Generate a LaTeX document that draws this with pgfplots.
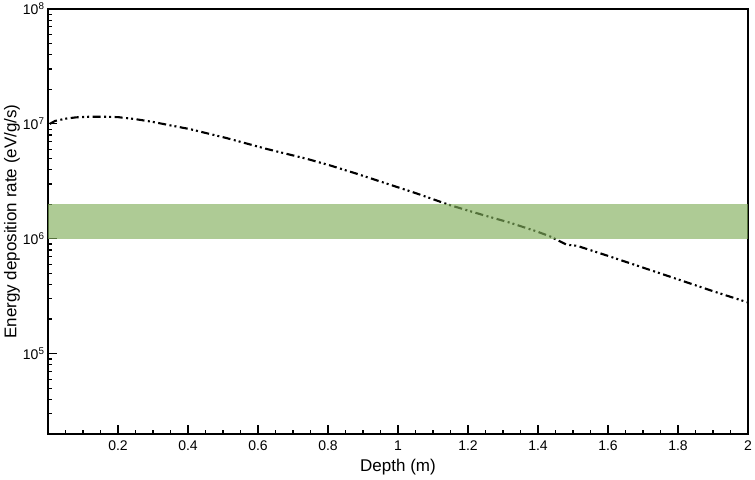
\documentclass[border=0pt]{standalone}
\usepackage{fontspec}
\setmainfont{Liberation Sans}
\usepackage{pgfplots}
\pgfplotsset{compat=1.18}
\definecolor{bandgreen}{RGB}{130,175,92}
\begin{document}
\begin{tikzpicture}
\path[use as bounding box] (-48bp,-46bp) rectangle (707bp,434bp);
\begin{axis}[
  scale only axis,
  width=700bp, height=425bp,
  ymode=log,
  xmin=0, xmax=2,
  ymin=2e4, ymax=1e8,
  axis line style={line width=1.6bp},
  tick style={line width=1.2bp, black},
  major tick length=9bp,
  minor tick length=4.5bp,
  tick align=inside,
  xtick pos=left, ytick pos=left,
  xtick={0.2,0.4,0.6,0.8,1,1.2,1.4,1.6,1.8,2},
  xticklabels={0.2,0.4,0.6,0.8,1,1.2,1.4,1.6,1.8,2},
  minor xtick={0.05,0.1,0.15,0.25,0.3,0.35,0.45,0.5,0.55,0.65,0.7,0.75,0.85,0.9,0.95,1.05,1.1,1.15,1.25,1.3,1.35,1.45,1.5,1.55,1.65,1.7,1.75,1.85,1.9,1.95},
  ytick={1e5,1e6,1e7,1e8},
  yticklabels={10\textsuperscript{5},10\textsuperscript{6},10\textsuperscript{7},10\textsuperscript{8}},
  minor ytick={2e4,3e4,4e4,5e4,6e4,7e4,8e4,9e4,2e5,3e5,4e5,5e5,6e5,7e5,8e5,9e5,2e6,3e6,4e6,5e6,6e6,7e6,8e6,9e6,2e7,3e7,4e7,5e7,6e7,7e7,8e7,9e7},
  ticklabel style={font=\fontsize{14bp}{16bp}\selectfont},
  xticklabel style={yshift=-3bp},
  xlabel={Depth (m)},
  ylabel={Energy deposition rate (eV/g/s)},
  label style={font=\fontsize{17bp}{20bp}\selectfont},
  xlabel style={at={(axis description cs:0.5,-0.0776)}, anchor=center},
  ylabel style={at={(axis description cs:-0.0514,0.5)}, anchor=center},
]
\addplot[black, line width=2.1bp, dash pattern=on 8bp off 3.5bp on 2bp off 3bp on 2bp off 3.5bp] coordinates {
(0.005,1.0e7) (0.02,1.06e7) (0.05,1.11e7) (0.08,1.14e7) (0.12,1.155e7) (0.16,1.155e7)
(0.2,1.145e7) (0.25,1.10e7) (0.3,1.04e7) (0.35,9.7e6) (0.406,9.0e6) (0.51,7.53e6)
(0.625,6.05e6) (0.739,4.97e6) (0.806,4.35e6) (0.88,3.7e6) (0.968,3.02e6) (1.05,2.5e6)
(1.149,1.96e6) (1.243,1.61e6) (1.32,1.38e6) (1.396,1.16e6) (1.434,1.05e6) (1.482,8.87e5)
(1.511,8.7e5) (1.6,7.1e5) (1.75,4.99e5) (1.9,3.5e5) (2.0,2.79e5)
};
\addplot[draw=none, fill=bandgreen, fill opacity=0.65] coordinates {
(0,1e6) (2,1e6) (2,2e6) (0,2e6)
} -- cycle;
\end{axis}
\end{tikzpicture}
\end{document}
